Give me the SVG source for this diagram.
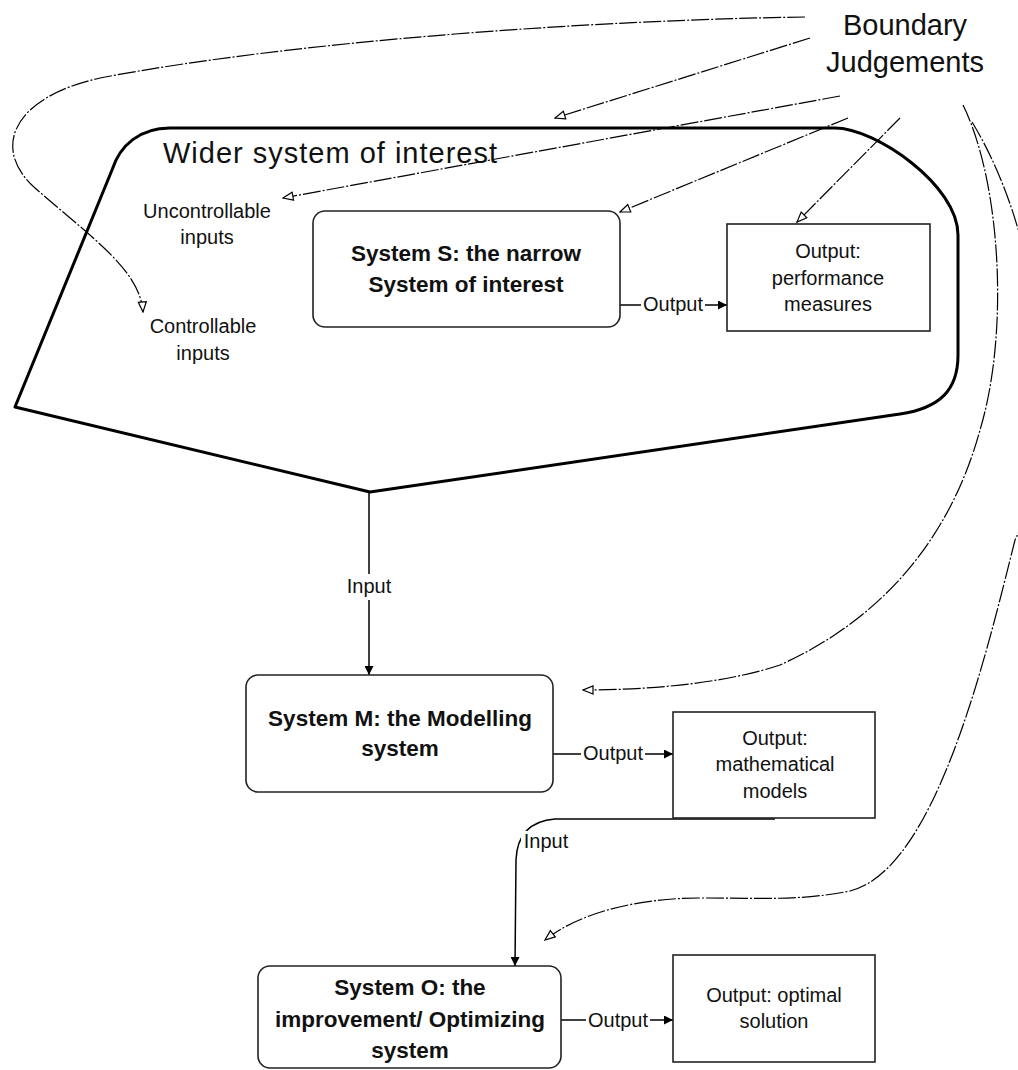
<svg xmlns="http://www.w3.org/2000/svg" width="1018" height="1070" viewBox="0 0 1018 1070">
<style>
text{font-family:"Liberation Sans",Arial,sans-serif;fill:#111;}
.big{font-size:29px;}
.bold{font-size:22.5px;font-weight:bold;text-anchor:middle;}
.lbl{font-size:20px;text-anchor:middle;}
.box{fill:#fff;stroke:#222;stroke-width:1.6;}
.bnd{fill:none;stroke:#000;stroke-width:3;stroke-linejoin:round;}
.bj{fill:none;stroke:#000;stroke-width:1.2;stroke-dasharray:18 2 2 2;marker-end:url(#open);}
.flow{fill:none;stroke:#000;stroke-width:1.5;marker-end:url(#fill);}
.bg{fill:#fff;}
</style>
<defs>
<marker id="open" viewBox="0 0 12 10" refX="11" refY="5" markerWidth="12" markerHeight="10" markerUnits="userSpaceOnUse" orient="auto">
<path d="M1,1 L11,5 L1,9 Z" fill="#fff" stroke="#000" stroke-width="1.2"/>
</marker>
<marker id="fill" viewBox="0 0 10 10" refX="10" refY="5" markerWidth="9" markerHeight="9" markerUnits="userSpaceOnUse" orient="auto">
<path d="M0,0 L10,5 L0,10 Z" fill="#000"/>
</marker>
</defs>
<rect width="1018" height="1070" fill="#fff"/>

<g id="wider-boundary">
<path class="bnd" d="M170,128 L835,128 C875,128 958,185 958,235 L958,355 C958,390 940,408 900,414 L370,492 L15,407 L112,170 C120,145 140,128 170,128 Z"/>
</g>

<g id="connectors">
<path class="bj" d="M805,17 C600,20 300,40 100,78 C10,98 -8,150 35,188 C92,238 140,270 143,312"/>
<path class="bj" d="M810,38 L555,118"/>
<path class="bj" d="M840,96 L283,198"/>
<path class="bj" d="M848,118 L620,212"/>
<path class="bj" d="M900,118 L797,222"/>
<path class="bj" d="M963,105 C1000,180 1010,330 980,430 C950,540 880,620 780,665 C720,685 640,690 583,690"/>
<path class="bj" d="M972,122 C1050,250 1060,450 1015,540 C985,660 935,870 850,891 C800,901 760,898 700,898 C640,898 580,912 545,940"/>
<path class="flow" d="M620,305 L727,305"/>
<path class="flow" d="M369,493 L369,675"/>
<path class="flow" d="M553,754 L673,754"/>
<path class="flow" d="M775,819 L555,819 C530,821 517,835 516,860 L515,966"/>
<path class="flow" d="M561,1020 L673,1020"/>
</g>

<g id="title">
<text class="big" x="163" y="163" letter-spacing="1">Wider system of interest</text>
</g>
<g id="boundary-judgements">
<text class="big" x="905" y="35" text-anchor="middle">Boundary</text>
<text class="big" x="905" y="72" text-anchor="middle">Judgements</text>
</g>
<g id="uncontrollable-inputs">
<text class="lbl" x="207" y="218">Uncontrollable</text>
<text class="lbl" x="207" y="244">inputs</text>
</g>
<g id="controllable-inputs">
<text class="lbl" x="203" y="333">Controllable</text>
<text class="lbl" x="203" y="360">inputs</text>
</g>

<g id="system-s">
<rect class="box" x="313" y="211" width="307" height="116" rx="12"/>
<text class="bold" x="466" y="261">System S: the narrow</text>
<text class="bold" x="466" y="292">System of interest</text>
</g>
<g id="output-performance">
<rect class="box" x="727" y="224" width="203" height="107"/>
<text class="lbl" x="828" y="258">Output:</text>
<text class="lbl" x="828" y="285">performance</text>
<text class="lbl" x="828" y="311">measures</text>
</g>
<g id="system-m">
<rect class="box" x="246" y="675" width="307" height="117" rx="12"/>
<text class="bold" x="400" y="726">System M: the Modelling</text>
<text class="bold" x="400" y="756">system</text>
</g>
<g id="output-models">
<rect class="box" x="673" y="712" width="202" height="106"/>
<text class="lbl" x="775" y="745">Output:</text>
<text class="lbl" x="775" y="771">mathematical</text>
<text class="lbl" x="775" y="798">models</text>
</g>
<g id="system-o">
<rect class="box" x="258" y="966" width="303" height="102" rx="12"/>
<text class="bold" x="410" y="995">System O: the</text>
<text class="bold" x="410" y="1027">improvement/ Optimizing</text>
<text class="bold" x="410" y="1058">system</text>
</g>
<g id="output-solution">
<rect class="box" x="673" y="955" width="202" height="107"/>
<text class="lbl" x="774" y="1002">Output: optimal</text>
<text class="lbl" x="774" y="1028">solution</text>
</g>

<g id="connector-labels">
<rect class="bg" x="641" y="294" width="64" height="20"/>
<text class="lbl" x="673" y="311">Output</text>
<rect class="bg" x="344" y="574" width="50" height="26"/>
<text class="lbl" x="369" y="593">Input</text>
<rect class="bg" x="581" y="743" width="64" height="20"/>
<text class="lbl" x="613" y="760">Output</text>
<rect class="bg" x="521" y="831" width="50" height="20"/>
<text class="lbl" x="546" y="848">Input</text>
<rect class="bg" x="586" y="1009" width="64" height="20"/>
<text class="lbl" x="618" y="1027">Output</text>
</g>
</svg>
